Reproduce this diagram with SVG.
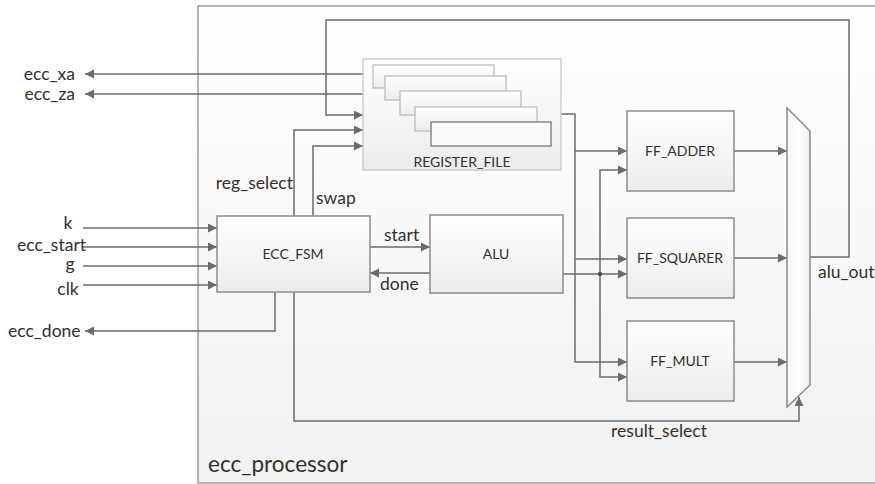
<svg xmlns="http://www.w3.org/2000/svg" width="875" height="484" viewBox="0 0 875 484">
<defs>
<linearGradient id="bg" x1="0" y1="0" x2="0" y2="1"><stop offset="0" stop-color="#ffffff"/><stop offset="1" stop-color="#f1f1f1"/></linearGradient>
<linearGradient id="box" x1="0" y1="0" x2="0" y2="1"><stop offset="0" stop-color="#ffffff"/><stop offset="1" stop-color="#ececec"/></linearGradient>
<linearGradient id="mux" x1="0" y1="0" x2="1" y2="0"><stop offset="0" stop-color="#f4f4f4"/><stop offset="0.5" stop-color="#ffffff"/><stop offset="1" stop-color="#eeeeee"/></linearGradient>
<marker id="ah" markerUnits="userSpaceOnUse" markerWidth="10" markerHeight="10" refX="9" refY="4.5" orient="auto"><path d="M0,0 L9,4.5 L0,9 z" fill="#6b6b6b"/></marker>
<style>
.box{fill:url(#box);stroke:#8c8c8c;stroke-width:1.5}
.reg{fill:url(#box);stroke:#b8b8b8;stroke-width:1.2}
.ln{fill:none;stroke:#6b6b6b;stroke-width:1.5}
.ar{marker-end:url(#ah)}
text{font-family:Lato,"Open Sans",sans-serif;fill:#33302c}
.lbl{font-size:17.5px}
.nm{font-size:14px;text-anchor:middle}
</style>
</defs>
<rect width="875" height="484" fill="#ffffff"/>
<g id="ecc_processor">
<rect x="198" y="6" width="690" height="477" fill="url(#bg)" stroke="#9a9a9a" stroke-width="1.5"/>
<text x="208" y="472" style="font-size:22.5px">ecc_processor</text>
</g>
<g id="connectors">
<path class="ln ar" d="M363,74 H85"/>
<path class="ln ar" d="M363,94 H85"/>
<path class="ln ar" d="M810,257 H849 V20 H326 V115 H363"/>
<path class="ln ar" d="M294,216 V130 H363"/>
<path class="ln ar" d="M313,216 V146 H363"/>
<path class="ln ar" d="M83,228 H217"/>
<path class="ln ar" d="M83,247 H217"/>
<path class="ln ar" d="M83,266 H217"/>
<path class="ln ar" d="M83,285 H217"/>
<path class="ln ar" d="M275,292 V331 H85"/>
<path class="ln ar" d="M294,292 V421 H799 V397"/>
<path class="ln ar" d="M370,247 H430"/>
<path class="ln ar" d="M430,273 H370"/>
<path class="ln ar" d="M561,114 H575 V362 H627"/>
<path class="ln ar" d="M575,151 H627"/>
<path class="ln ar" d="M575,259 H627"/>
<path class="ln ar" d="M563,274 H627"/>
<path class="ln ar" d="M600,274 V377 H627"/>
<path class="ln ar" d="M600,274 V170 H627"/>
<circle cx="600" cy="274" r="2" fill="#444"/>
<path class="ln ar" d="M734,151 H787"/>
<path class="ln ar" d="M734,258 H787"/>
<path class="ln ar" d="M734,362 H787"/>
</g>
<g id="labels">
<text class="lbl" x="75" y="80" text-anchor="end">ecc_xa</text>
<text class="lbl" x="75" y="100" text-anchor="end">ecc_za</text>
<text class="lbl" x="293" y="189" text-anchor="end">reg_select</text>
<text class="lbl" x="316" y="204">swap</text>
<text class="lbl" x="68" y="229" text-anchor="middle">k</text>
<text class="lbl" x="17" y="251">ecc_start</text>
<text class="lbl" x="70" y="270" text-anchor="middle">g</text>
<text class="lbl" x="68" y="295" text-anchor="middle">clk</text>
<text class="lbl" x="8" y="337">ecc_done</text>
<text class="lbl" x="384" y="241">start</text>
<text class="lbl" x="380" y="290">done</text>
<text class="lbl" x="818" y="278">alu_out</text>
<text class="lbl" x="659" y="437" text-anchor="middle">result_select</text>
</g>
<g id="register_file">
<rect x="363" y="59" width="198" height="111" fill="url(#box)" stroke="#c4c4c4" stroke-width="1.2"/>
<rect class="reg" x="373" y="65" width="121" height="23"/>
<rect class="reg" x="385" y="76" width="121" height="24"/>
<rect class="reg" x="400" y="91" width="121" height="24"/>
<rect class="reg" x="415" y="107" width="122" height="24"/>
<rect x="431" y="122" width="120" height="24" fill="#fafafa" stroke="#777" stroke-width="1.3"/>
<text class="nm" x="462" y="167">REGISTER_FILE</text>
</g>
<g id="ecc_fsm">
<rect class="box" x="217" y="216" width="153" height="76"/>
<text class="nm" x="293" y="259">ECC_FSM</text>
</g>
<g id="alu">
<rect class="box" x="430" y="215" width="133" height="78"/>
<text class="nm" x="496" y="259">ALU</text>
</g>
<g id="ff_adder">
<rect class="box" x="627" y="111" width="107" height="80"/>
<text class="nm" x="680" y="156">FF_ADDER</text>
</g>
<g id="ff_squarer">
<rect class="box" x="627" y="218" width="107" height="80"/>
<text class="nm" x="680" y="263">FF_SQUARER</text>
</g>
<g id="ff_mult">
<rect class="box" x="627" y="321" width="107" height="80"/>
<text class="nm" x="680" y="366">FF_MULT</text>
</g>
<g id="mux">
<polygon points="787,108 810,131 810,385 787,407" fill="url(#mux)" stroke="#8c8c8c" stroke-width="1.5"/>
</g>
</svg>
